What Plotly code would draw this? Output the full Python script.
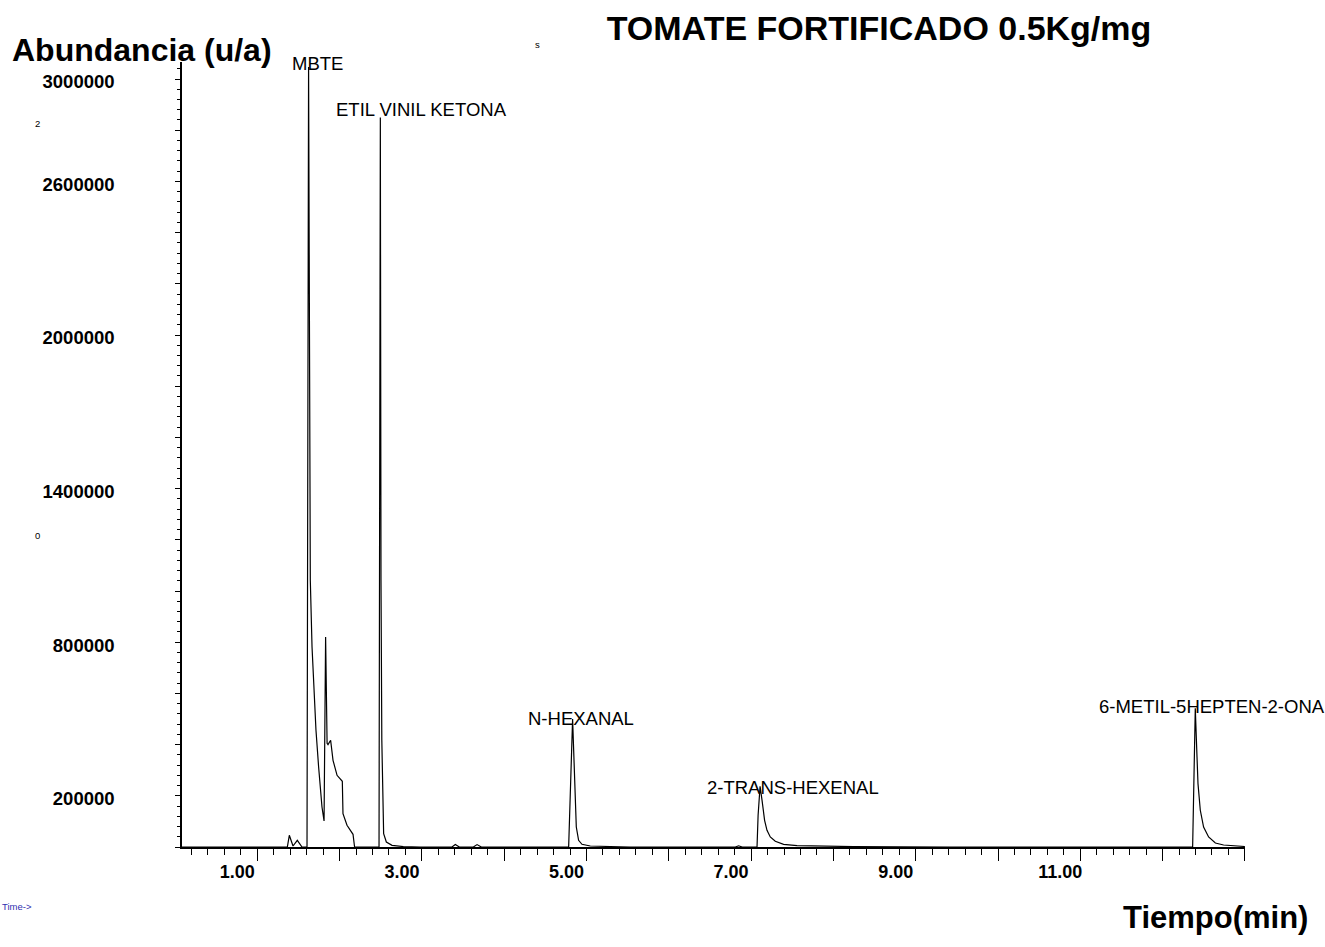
import plotly.graph_objects as go

# ---- data ----
time_min = [0.34, 1.620, 1.644, 1.689, 1.741, 1.798, 1.857, 1.859, 1.878, 1.899, 1.920, 1.939,
            1.968, 2.000, 2.041, 2.066, 2.085, 2.103, 2.114, 2.146, 2.175, 2.224, 2.276, 2.288,
            2.296, 2.345, 2.418, 2.437, 2.734, 2.750, 2.758, 2.768, 2.790, 2.823, 2.892, 3.029,
            3.236, 3.620, 3.661, 3.710, 3.880, 3.925, 3.977, 5.038, 5.086, 5.111, 5.131, 5.159,
            5.200, 5.301, 5.504, 5.787, 7.063, 7.103, 7.148, 7.327, 7.340, 7.364, 7.388, 7.419,
            7.448, 7.488, 7.549, 7.650, 7.813, 8.096, 8.497, 9.068, 9.676, 12.620, 12.652,
            12.673, 12.685, 12.713, 12.753, 12.814, 12.896, 12.996, 13.159, 13.255]
abundance = [0, 0, 45700, 3900, 26200, 0, 0, 0, 3046900, 1041800, 781250, 625000,
             455900, 312500, 156250, 101600, 820300, 405000, 400000, 416800, 338700, 280000, 260400, 256600,
             130500, 84800, 49600, 0, 0, 2850000, 1041800, 416800, 52300, 19500, 6600, 1600,
             0, 0, 9400, 0, 0, 9400, 0, 0, 500000, 208600, 78100, 26200,
             10500, 3900, 1600, 0, 0, 4700, 0, 0, 123800, 237100, 182400, 104300,
             65200, 39100, 22300, 10500, 5500, 2700, 1600, 800, 0, 0, 541800,
             351600, 247700, 143400, 78100, 39100, 15600, 7800, 3900, 2000]

peak_names = ["MBTE", "ETIL VINIL KETONA", "N-HEXANAL", "2-TRANS-HEXENAL", "6-METIL-5HEPTEN-2-ONA"]
peak_label_x = [1.650, 2.190, 4.515, 6.690, 11.452]
peak_label_y = [3061000, 2881600, 502700, 233200, 549600]

x_tick_labels = ["1.00", "3.00", "5.00", "7.00", "9.00", "11.00"]
y_tick_labels = {200000: "200000", 800000: "800000", 1400000: "1400000",
                 2000000: "2000000", 2600000: "2600000", 3000000: "3000000"}

title_text = "TOMATE FORTIFICADO 0.5Kg/mg"
y_title = "Abundancia (u/a)"
x_title = "Tiempo(min)"

# ---- layout geometry ----
W, H = 1325, 947
L, R, T, B = 182, 80, 62, 100
PW, PH = W - L - R, H - T - B


def px_to_paper(px, py):
    return (px - L) / PW, (H - B - py) / PH


FONT = "Liberation Sans, Arial, sans-serif"
x_major = [1.255 + k for k in range(13)]
x_ticktext = []
for k in range(13):
    x_ticktext.append(x_tick_labels[k // 2] if (k % 2 == 0 and k // 2 < len(x_tick_labels)) else "")

y_major = [200000 * k for k in range(16)]
y_ticktext = [y_tick_labels.get(v, "") for v in y_major]

fig = go.Figure()
fig.add_trace(go.Scatter(x=time_min, y=abundance, mode="lines",
                         line=dict(color="black", width=1.2), showlegend=False,
                         hoverinfo="skip"))

for name, xv, yv in zip(peak_names, peak_label_x, peak_label_y):
    fig.add_annotation(x=xv, y=yv, xref="x", yref="y", text=name, showarrow=False,
                       xanchor="left", yanchor="middle",
                       font=dict(family=FONT, size=18.5, color="black"))

# stray small marks from the original print-out
for txt, px, py, col, anc, sz in [("s", 537, 44, "black", "center", 9.5),
                                  ("2", 37, 124, "black", "center", 9.5),
                                  ("0", 37, 535, "black", "center", 9.5),
                                  ("Time->", 0, 906, "#3030b0", "left", 9.5)]:
    xp, yp = px_to_paper(px, py)
    fig.add_annotation(x=xp, y=yp, xref="paper", yref="paper",
                       text=txt, showarrow=False, xanchor=anc, yanchor="middle",
                       font=dict(family=FONT, size=sz, color=col))

# axis titles
xp, yp = px_to_paper(10, 50)
fig.add_annotation(text=y_title, xref="paper", yref="paper", x=xp, y=yp,
                   xanchor="left", yanchor="middle", showarrow=False,
                   font=dict(family=FONT, size=32, color="black", weight="bold"))
xp, yp = px_to_paper(1310, 917)
fig.add_annotation(text=x_title, xref="paper", yref="paper", x=xp, y=yp,
                   xanchor="right", yanchor="middle", showarrow=False,
                   font=dict(family=FONT, size=31, color="black", weight="bold"))

fig.update_layout(
    width=W, height=H,
    margin=dict(l=L, r=R, t=T, b=B),
    paper_bgcolor="white", plot_bgcolor="white",
    title=dict(text=title_text, xref="paper", x=(879 - L) / PW, xanchor="center",
               yref="container", y=1 - 28 / H, yanchor="middle",
               font=dict(family=FONT, size=34, color="black", weight="bold")),
    xaxis=dict(range=[0.34, 0.34 + PW / 82.3], showgrid=False, zeroline=False,
               showline=True, linecolor="black", linewidth=1.8,
               tickmode="array", tickvals=x_major, ticktext=x_ticktext,
               ticks="outside", ticklen=12, tickwidth=1, tickcolor="black",
               ticklabelshift=-20, ticklabelstandoff=-5,
               tickfont=dict(family=FONT, size=18, color="black", weight="bold"),
               minor=dict(tick0=1.255, dtick=0.2, ticks="outside", ticklen=6,
                          tickwidth=1, tickcolor="black", showgrid=False)),
    yaxis=dict(range=[0, PH * 3906.25], showgrid=False, zeroline=False,
               showline=True, linecolor="black", linewidth=1.5,
               tickmode="array", tickvals=y_major, ticktext=y_ticktext,
               ticks="outside", ticklen=5, tickwidth=1, tickcolor="black",
               ticklabelshift=3, ticklabelstandoff=57,
               tickfont=dict(family=FONT, size=18.5, color="black", weight="bold"),
               minor=dict(tick0=0, dtick=40000, ticks="outside", ticklen=3,
                          tickwidth=1, tickcolor="black", showgrid=False)),
)

fig.write_html("out.html")
